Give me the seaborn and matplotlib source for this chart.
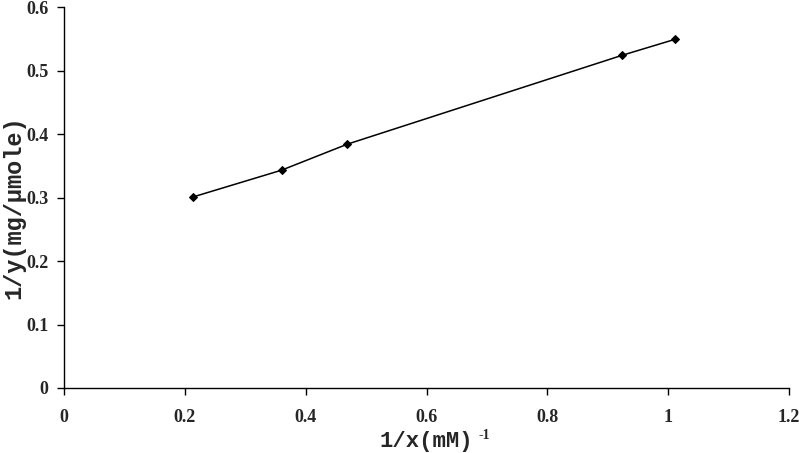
import matplotlib
matplotlib.use("Agg")
import matplotlib.pyplot as plt
import seaborn as sns
import pandas as pd

inv_x = [0.214, 0.360, 0.469, 0.924, 1.011]
inv_y = [0.301, 0.343, 0.384, 0.524, 0.549]
x_ticks = [0, 0.2, 0.4, 0.6, 0.8, 1, 1.2]
x_tick_labels = ["0", "0.2", "0.4", "0.6", "0.8", "1", "1.2"]
y_ticks = [0, 0.1, 0.2, 0.3, 0.4, 0.5, 0.6]
y_tick_labels = ["0", "0.1", "0.2", "0.3", "0.4", "0.5", "0.6"]

df = pd.DataFrame({"x": inv_x, "y": inv_y})

sns.set_style("white")
fig = plt.figure(figsize=(7.99, 4.53), dpi=100)
ax = fig.add_axes([64/799, 1 - 388/453, (789-64)/799, (388-7)/453])

sns.lineplot(data=df, x="x", y="y", ax=ax, color="black", linewidth=1.1,
             marker="D", markersize=4.5, markeredgecolor="black", sort=False)

ax.set_xlim(0, 1.2)
ax.set_ylim(0, 0.6)
ax.set_xticks(x_ticks)
ax.set_xticklabels(x_tick_labels)
ax.set_yticks(y_ticks)
ax.set_yticklabels(y_tick_labels)
for lab in ax.get_xticklabels() + ax.get_yticklabels():
    lab.set_fontfamily("Liberation Serif")
    lab.set_fontweight("bold")
    lab.set_fontsize(13)

ax.tick_params(axis="both", direction="out", length=5, width=1, color="black",
               bottom=True, left=True)
ax.tick_params(axis="x", pad=10)
ax.tick_params(axis="y", pad=6)
for s in ["top", "right"]:
    ax.spines[s].set_visible(False)
for s in ["left", "bottom"]:
    ax.spines[s].set_color("black")
    ax.spines[s].set_linewidth(1)

ax.set_xlabel("1/x(mM)", fontfamily="Liberation Mono",
              fontweight="bold", fontsize=16, labelpad=4)
ax.annotate("-1", xy=(1, 0.8), xycoords=ax.xaxis.label, xytext=(4, 0),
            textcoords="offset points", fontfamily="Liberation Serif",
            fontweight="bold", fontsize=10, va="center", ha="left")
ax.set_ylabel("1/y(mg/\u00b5mole)", fontfamily="Liberation Mono",
              fontweight="bold", fontsize=17)
ax.yaxis.set_label_coords(-0.053, 0.475)

fig.savefig("out.png", dpi=100)
